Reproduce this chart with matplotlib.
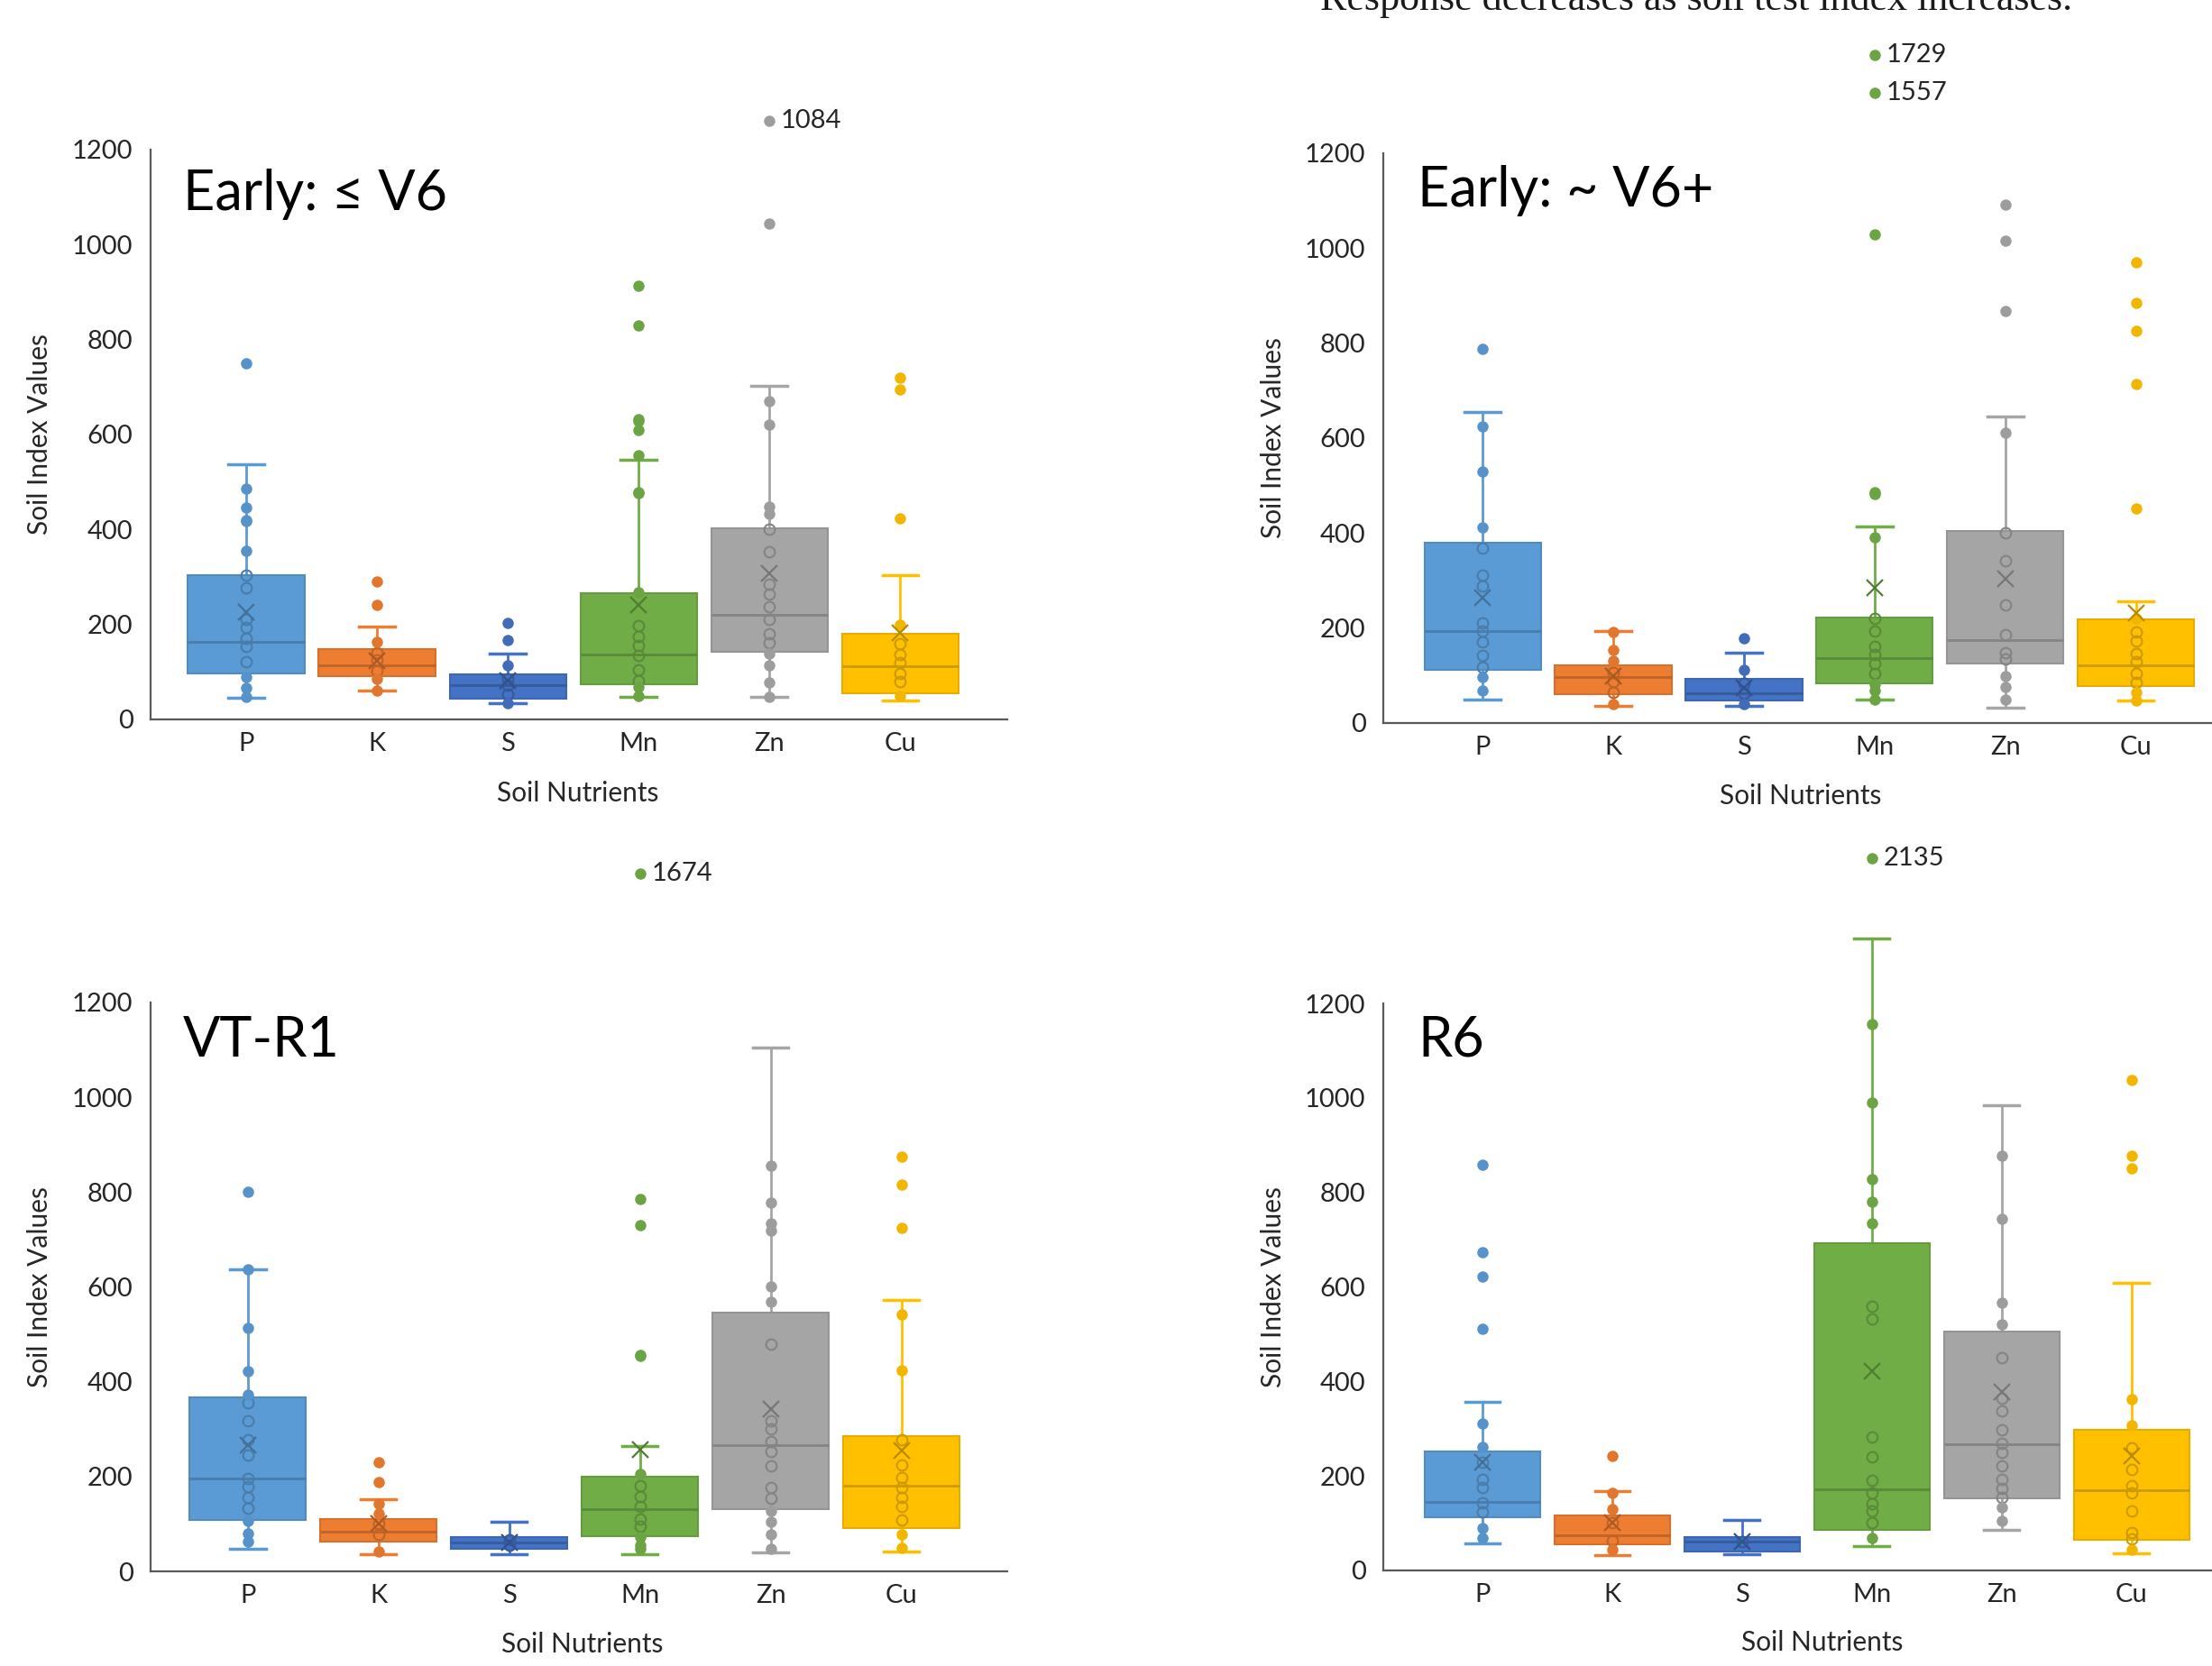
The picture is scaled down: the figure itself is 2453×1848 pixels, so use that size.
import matplotlib
matplotlib.use("Agg")
import matplotlib.pyplot as plt
import matplotlib.colors as mcolors
from matplotlib.transforms import blended_transform_factory
import numpy as np

# ---------------- DATA ----------------
NUTRIENTS = ["P", "K", "S", "Mn", "Zn", "Cu"]
COLORS = ["#5B9BD5", "#ED7D31", "#4472C4", "#70AD47", "#A5A5A5", "#FFC000"]
TITLES = ["Early: \u2264 V6", "Early: ~ V6+", "VT-R1", "R6"]
TOP_NOTE = "Response decreases as soil test index increases."

# Panel 1: Early <= V6
p1_lo = [46, 60, 34, 48, 47, 39]
p1_q1 = [97, 91, 44, 75, 143, 56]
p1_med = [164, 113, 72, 137, 220, 112]
p1_q3 = [304, 148, 94, 266, 402, 181]
p1_hi = [537, 196, 139, 547, 702, 303]
p1_mean = [226, 123, 82, 242, 308, 183]
p1_pts_P = [750, 487, 447, 420, 417, 355, 303, 278, 211, 194, 171, 154, 121, 90, 67, 47]
p1_pts_K = [290, 242, 163, 140, 125, 102, 85, 60]
p1_pts_S = [204, 168, 113, 85, 72, 53, 34]
p1_pts_Mn = [914, 830, 633, 629, 610, 556, 478, 476, 268, 198, 174, 155, 134, 105, 82, 68, 50]
p1_pts_Zn = [1045, 670, 620, 449, 433, 401, 354, 284, 263, 238, 211, 180, 162, 139, 113, 77, 47]
p1_pts_Cu = [719, 694, 423, 199, 159, 137, 120, 97, 80, 50]
p1_offaxis = [("Zn", 1084)]

# Panel 2: Early ~ V6+
p2_lo = [50, 36, 36, 50, 33, 47]
p2_q1 = [112, 61, 47, 83, 125, 77]
p2_med = [194, 96, 63, 136, 174, 121]
p2_q3 = [379, 121, 93, 223, 404, 218]
p2_hi = [655, 194, 148, 414, 646, 257]
p2_mean = [263, 98, 74, 284, 303, 232]
p2_pts_P = [788, 625, 530, 412, 368, 311, 289, 210, 194, 170, 142, 118, 96, 69]
p2_pts_K = [192, 153, 131, 107, 87, 65, 39]
p2_pts_S = [178, 112, 83, 63, 39]
p2_pts_Mn = [1030, 486, 483, 392, 221, 194, 161, 145, 126, 105, 82, 69, 50]
p2_pts_Zn = [1091, 1015, 868, 611, 401, 341, 249, 187, 148, 134, 98, 76, 49]
p2_pts_Cu = [971, 885, 826, 714, 452, 221, 192, 172, 147, 129, 104, 85, 65, 47]
p2_offaxis = [("Mn", 1729), ("Mn", 1557)]

# Panel 3: VT-R1
p3_lo = [48, 37, 36, 36, 39, 42]
p3_q1 = [108, 63, 47, 75, 131, 91]
p3_med = [195, 83, 61, 131, 267, 180]
p3_q3 = [367, 111, 72, 200, 545, 286]
p3_hi = [638, 153, 104, 264, 1105, 572]
p3_mean = [267, 100, 61, 256, 342, 254]
p3_pts_P = [801, 638, 514, 423, 373, 356, 317, 278, 245, 195, 178, 156, 134, 106, 80, 63]
p3_pts_K = [230, 189, 142, 122, 100, 78, 42]
p3_pts_S = [66, 55]
p3_pts_Mn = [785, 731, 456, 454, 206, 180, 158, 136, 111, 95, 72, 56, 47]
p3_pts_Zn = [855, 777, 735, 718, 601, 568, 479, 317, 301, 273, 253, 223, 176, 154, 128, 104, 78, 48]
p3_pts_Cu = [875, 815, 725, 542, 425, 278, 225, 197, 176, 156, 137, 109, 78, 50]
p3_offaxis = [("Mn", 1674)]

# Panel 4: R6
p4_lo = [58, 32, 35, 51, 85, 37]
p4_q1 = [113, 55, 41, 86, 153, 65]
p4_med = [145, 75, 61, 171, 267, 170]
p4_q3 = [251, 116, 71, 692, 505, 297]
p4_hi = [357, 168, 107, 1338, 984, 608]
p4_mean = [228, 101, 61, 422, 377, 243]
p4_pts_P = [859, 674, 621, 512, 311, 262, 228, 193, 176, 144, 124, 90, 69]
p4_pts_K = [243, 165, 130, 101, 63, 44]
p4_pts_S = [61]
p4_pts_Mn = [1156, 991, 828, 780, 735, 559, 532, 283, 240, 190, 164, 142, 126, 102, 69]
p4_pts_Zn = [878, 744, 566, 521, 450, 364, 337, 298, 269, 250, 222, 192, 173, 154, 133, 105]
p4_pts_Cu = [1037, 878, 851, 363, 307, 260, 213, 180, 165, 126, 81, 67, 43]
p4_offaxis = [("Mn", 2135)]

# ---------------- STYLE / LAYOUT ----------------
W, H = 2453, 1848
DPI = 100
FONT = ["Lato", "DejaVu Sans"]
TXT = "#262626"
AXC = "#595959"
TICK_FS = 21
LABEL_FS = 21.5
plt.rcParams["font.family"] = FONT

fig = plt.figure(figsize=(W / DPI, H / DPI), dpi=DPI)
fig.patch.set_facecolor("white")


def shade(c, f):
    r, g, b = mcolors.to_rgb(c)
    return (r * f, g * f, b * f)


def fit_size(text, family, target_px, base=20):
    t = fig.text(0, 0, text, fontsize=base, family=family)
    r = fig.canvas.get_renderer()
    w = t.get_window_extent(renderer=r).width
    t.remove()
    return base * target_px / w


def draw_panel(rect, xlim, title, title_xy, stats_lists, pts, offaxis, off_y,
               ylab_x, xlab_xy):
    left, right, top, bottom = rect
    ax = fig.add_axes([left / W, 1 - bottom / H, (right - left) / W, (bottom - top) / H])
    lo, q1, med, q3, hi, mean = stats_lists
    pos = np.arange(1, len(NUTRIENTS) + 1)
    stats = [dict(whislo=lo[i], q1=q1[i], med=med[i], q3=q3[i], whishi=hi[i],
                  mean=mean[i], fliers=[], label=NUTRIENTS[i]) for i in range(len(NUTRIENTS))]
    bp = ax.bxp(stats, positions=pos, widths=0.89, capwidths=0.27, showmeans=True,
                meanline=False, patch_artist=True, showfliers=False, manage_ticks=False)
    for i, c in enumerate(COLORS):
        bp["boxes"][i].set(facecolor=c, edgecolor=shade(c, 0.9), linewidth=1.5, zorder=2)
        bp["medians"][i].set(color=shade(c, 0.8), linewidth=2, zorder=3)
        for w in bp["whiskers"][2 * i:2 * i + 2]:
            w.set(color=c, linewidth=2, clip_on=False, zorder=1.5)
        for cp in bp["caps"][2 * i:2 * i + 2]:
            cp.set(color=c, linewidth=2.5, clip_on=False, zorder=1.5)
        bp["means"][i].set(marker="x", markersize=13, markeredgecolor=shade(c, 0.72),
                           markeredgewidth=1.6, zorder=5)
        vals = np.array(pts[i], dtype=float)
        if len(vals):
            inside = (vals >= q1[i]) & (vals <= q3[i])
            ax.plot(np.full(inside.sum(), pos[i]), vals[inside], "o", ms=8.5, mfc="none",
                    mec=shade(c, 0.8), mew=1.5, zorder=4, clip_on=False)
            ax.plot(np.full((~inside).sum(), pos[i]), vals[~inside], "o", ms=9,
                    mfc=shade(c, 0.95), mec="none", zorder=4, clip_on=False)

    # Off-scale values shown as labelled dots above the plot
    tr = blended_transform_factory(ax.transData, ax.transAxes)
    for (name, v), yf in zip(offaxis, off_y):
        k = NUTRIENTS.index(name)
        ax.plot([pos[k]], [yf], "o", ms=9, mfc=shade(COLORS[k], 0.95), mec="none",
                transform=tr, clip_on=False)
        ax.annotate(str(v), xy=(pos[k], yf), xycoords=tr, xytext=(9, 0),
                    textcoords="offset points", va="center", ha="left",
                    fontsize=TICK_FS, color=TXT)

    ax.set_xlim(*xlim)
    ax.set_ylim(0, 1200)
    ax.set_yticks(np.arange(0, 1201, 200))
    ax.set_xticks(pos)
    ax.set_xticklabels(NUTRIENTS)
    ax.tick_params(axis="both", length=0, labelsize=TICK_FS, colors=TXT)
    ax.tick_params(axis="y", pad=14)
    ax.tick_params(axis="x", pad=10)
    for s in ("top", "right"):
        ax.spines[s].set_visible(False)
    for s in ("left", "bottom"):
        ax.spines[s].set_color(AXC)
        ax.spines[s].set_linewidth(1.6)
    ax.set_facecolor("none")

    ax.set_ylabel("Soil Index Values", fontsize=LABEL_FS, color=TXT)
    ax.yaxis.set_label_coords(ylab_x, 0.5)
    ax.set_xlabel("Soil Nutrients", fontsize=LABEL_FS, color=TXT)
    ax.xaxis.set_label_coords(*xlab_xy)

    fig.text(title_xy[0] / W, 1 - title_xy[1] / H, title, fontsize=TITLE_FS,
             va="center", ha="left", color="black", family=FONT)
    return ax


TITLE_FS = fit_size(TITLES[0], FONT, 293, base=40)

panels = [
    dict(rect=(167, 1117, 166, 798), xlim=(0.269, 6.82), title_xy=(203, 215),
         stats=(p1_lo, p1_q1, p1_med, p1_q3, p1_hi, p1_mean),
         pts=[p1_pts_P, p1_pts_K, p1_pts_S, p1_pts_Mn, p1_pts_Zn, p1_pts_Cu],
         off=p1_offaxis, off_y=[1.05], ylab_x=-0.115, xlab=(0.499, -0.108)),
    dict(rect=(1534, 2453, 170, 802), xlim=(0.241, 6.58), title_xy=(1572, 212),
         stats=(p2_lo, p2_q1, p2_med, p2_q3, p2_hi, p2_mean),
         pts=[p2_pts_P, p2_pts_K, p2_pts_S, p2_pts_Mn, p2_pts_Zn, p2_pts_Cu],
         off=p2_offaxis, off_y=[1.172, 1.106], ylab_x=-0.117, xlab=(0.503, -0.106)),
    dict(rect=(167, 1117, 1112, 1743), xlim=(0.255, 6.81), title_xy=(203, 1154),
         stats=(p3_lo, p3_q1, p3_med, p3_q3, p3_hi, p3_mean),
         pts=[p3_pts_P, p3_pts_K, p3_pts_S, p3_pts_Mn, p3_pts_Zn, p3_pts_Cu],
         off=p3_offaxis, off_y=[1.226], ylab_x=-0.115, xlab=(0.504, -0.106)),
    dict(rect=(1534, 2453, 1113, 1742), xlim=(0.236, 6.62), title_xy=(1572, 1154),
         stats=(p4_lo, p4_q1, p4_med, p4_q3, p4_hi, p4_mean),
         pts=[p4_pts_P, p4_pts_K, p4_pts_S, p4_pts_Mn, p4_pts_Zn, p4_pts_Cu],
         off=p4_offaxis, off_y=[1.256], ylab_x=-0.117, xlab=(0.53, -0.105)),
]

for t, p in zip(TITLES, panels):
    draw_panel(p["rect"], p["xlim"], t, p["title_xy"], p["stats"], p["pts"],
               p["off"], p["off_y"], p["ylab_x"], p["xlab"])

# Cut-off sentence at the very top (from the surrounding document)
serif = ["Liberation Serif", "DejaVu Serif"]
fs_note = fit_size(TOP_NOTE, serif, 836, base=28)
fig.text(1464 / W, 1 - 11 / H, TOP_NOTE, fontsize=fs_note, family=serif,
         va="baseline", ha="left", color="#1a1a1a")

fig.savefig("out.png", dpi=DPI, facecolor="white")
